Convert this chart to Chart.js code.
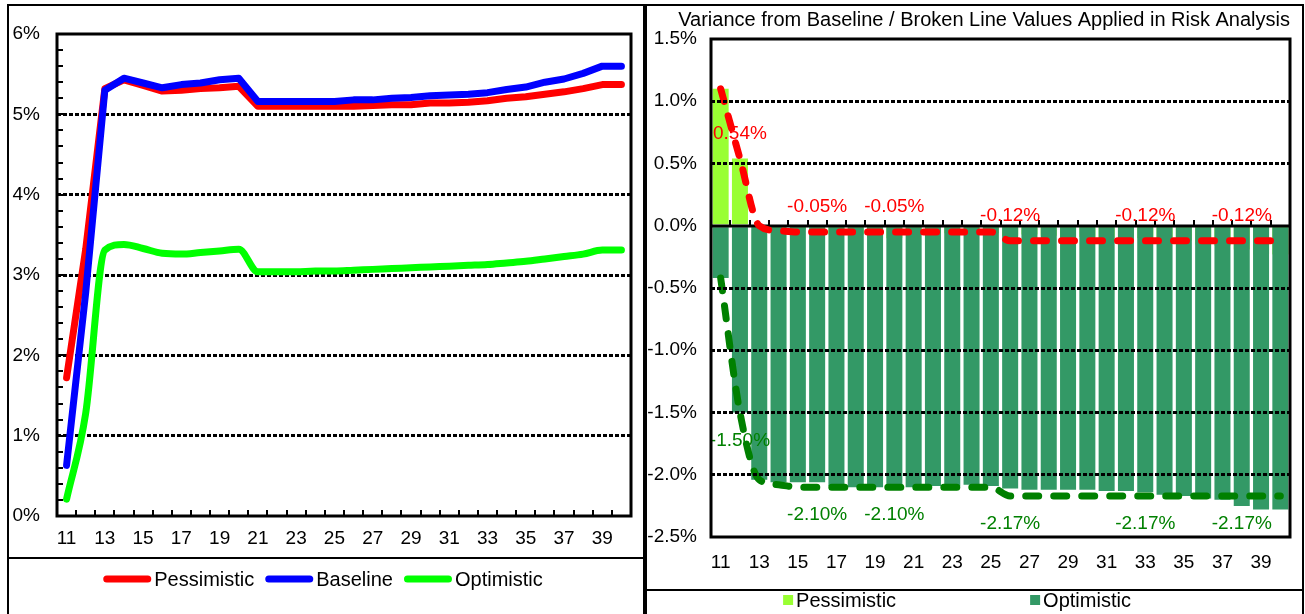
<!DOCTYPE html>
<html>
<head>
<meta charset="utf-8">
<title>Interest rate scenarios</title>
<script src="https://cdn.jsdelivr.net/npm/chart.js@4.4.0/dist/chart.umd.min.js"></script>
<style>
  html, body { margin: 0; padding: 0; background: #fff; overflow: hidden; }
  #stage { position: relative; width: 1305px; height: 614px; }
  canvas { position: absolute; top: 0; }
  #leftChart { left: 0; }
  #rightChart { left: 645px; }
  .panel { position: absolute; box-sizing: border-box; border: 2px solid #000; pointer-events: none; }
  .rule { position: absolute; height: 2px; background: #000; pointer-events: none; }
</style>
</head>
<body>
<div id="stage">
  <canvas id="leftChart" width="645" height="614"></canvas>
  <canvas id="rightChart" width="660" height="614"></canvas>
  <div class="panel" style="left:7px;top:4px;width:638px;height:650px"></div>
  <div class="panel" style="left:645px;top:4px;width:659px;height:650px"></div>
  <div class="rule" style="left:7px;top:557px;width:638px"></div>
  <div class="rule" style="left:645px;top:589px;width:659px"></div>
</div>
<script>
// Years on the horizontal axis and the ones that carry a label
const CATEGORIES = ['11','12','13','14','15','16','17','18','19','20',
                    '21','22','23','24','25','26','27','28','29','30',
                    '31','32','33','34','35','36','37','38','39','40'];
const TICK_LABELS = ['11','13','15','17','19','21','23','25','27','29','31','33','35','37','39'];

// Rate paths (%)
const PESSIMISTIC = [1.72, 3.32, 5.32, 5.43, 5.36, 5.29, 5.30, 5.32, 5.33, 5.35,
                     5.10, 5.10, 5.10, 5.10, 5.10, 5.10, 5.11, 5.12, 5.12, 5.14,
                     5.14, 5.15, 5.17, 5.20, 5.22, 5.25, 5.28, 5.32, 5.37, 5.37];
const BASELINE    = [0.63, 2.78, 5.30, 5.45, 5.39, 5.33, 5.37, 5.39, 5.43, 5.45,
                     5.16, 5.16, 5.16, 5.16, 5.16, 5.18, 5.18, 5.20, 5.21, 5.23,
                     5.24, 5.25, 5.27, 5.31, 5.34, 5.40, 5.44, 5.51, 5.60, 5.60];
const OPTIMISTIC  = [0.21, 1.28, 3.31, 3.38, 3.33, 3.27, 3.26, 3.28, 3.30, 3.32,
                     3.04, 3.04, 3.04, 3.05, 3.05, 3.06, 3.07, 3.08, 3.09, 3.10,
                     3.11, 3.12, 3.13, 3.15, 3.17, 3.20, 3.23, 3.26, 3.31, 3.31];

// Variance from baseline (percentage points)
const VAR_PESSIMISTIC = [1.10, 0.54, -0.01, -0.02, -0.03, -0.04, -0.07, -0.07, -0.10, -0.10,
                         -0.06, -0.06, -0.06, -0.06, -0.06, -0.08, -0.07, -0.08, -0.09, -0.09,
                         -0.10, -0.10, -0.10, -0.11, -0.12, -0.15, -0.16, -0.19, -0.23, -0.23];
const VAR_OPTIMISTIC  = [-0.42, -1.50, -2.04, -2.06, -2.06, -2.06, -2.09, -2.10, -2.10, -2.10,
                         -2.10, -2.09, -2.09, -2.08, -2.09, -2.11, -2.12, -2.12, -2.12, -2.12,
                         -2.13, -2.13, -2.14, -2.16, -2.17, -2.19, -2.20, -2.25, -2.28, -2.28];

// Broken-line values used in the risk analysis
const APPLIED_PESSIMISTIC = [1.10, 0.54, 0.00, -0.04, -0.05, -0.05, -0.05, -0.05, -0.05, -0.05,
                             -0.05, -0.05, -0.05, -0.05, -0.05, -0.12, -0.12, -0.12, -0.12, -0.12,
                             -0.12, -0.12, -0.12, -0.12, -0.12, -0.12, -0.12, -0.12, -0.12, -0.12];
const APPLIED_OPTIMISTIC  = [-0.42, -1.50, -2.04, -2.08, -2.10, -2.10, -2.10, -2.10, -2.10, -2.10,
                             -2.10, -2.10, -2.10, -2.10, -2.10, -2.17, -2.17, -2.17, -2.17, -2.17,
                             -2.17, -2.17, -2.17, -2.17, -2.17, -2.17, -2.17, -2.17, -2.17, -2.17];
// Points of the broken lines whose value is printed
const LABELLED_POINTS = [1, 5, 9, 15, 22, 27];

const FONT = '"Liberation Sans", Arial, sans-serif';
Chart.defaults.font.family = FONT;
Chart.defaults.color = '#000';

function roundedRect(ctx, x, y, w, h, r) {
  r = Math.min(r, w / 2, h / 2);
  ctx.beginPath();
  ctx.moveTo(x + r, y);
  ctx.lineTo(x + w - r, y);
  ctx.arcTo(x + w, y, x + w, y + r, r);
  ctx.lineTo(x + w, y + h - r);
  ctx.arcTo(x + w, y + h, x + w - r, y + h, r);
  ctx.lineTo(x + r, y + h);
  ctx.arcTo(x, y + h, x, y + h - r, r);
  ctx.lineTo(x, y + r);
  ctx.arcTo(x, y, x + r, y, r);
  ctx.closePath();
}

function line(ctx, x1, y1, x2, y2) {
  ctx.beginPath(); ctx.moveTo(x1, y1); ctx.lineTo(x2, y2); ctx.stroke();
}

// Heavy frame round the plot area
const plotFrame = {
  id: 'plotFrame',
  afterDatasetsDraw(chart) {
    const { ctx, chartArea: a } = chart;
    ctx.save();
    ctx.lineWidth = 3;
    ctx.strokeStyle = '#000';
    ctx.strokeRect(a.left, a.top, a.right - a.left, a.bottom - a.top);
    ctx.restore();
  }
};

// Legend laid out in a single centred row
function legendRow(cfg) {
  return {
    id: 'legendRow',
    afterDraw(chart) {
      const ctx = chart.ctx;
      const items = cfg.datasets.map(i => chart.data.datasets[i]);
      ctx.save();
      ctx.font = cfg.fontSize + 'px ' + FONT;
      ctx.textBaseline = 'middle';
      const widths = items.map(d => cfg.boxWidth + cfg.textGap + ctx.measureText(d.label).width);
      const total = widths.reduce((s, w) => s + w, 0) + cfg.itemGap * (items.length - 1);
      let x = cfg.centerX - total / 2;
      items.forEach((d, k) => {
        ctx.fillStyle = d.type === 'bar' ? d.backgroundColor : d.borderColor;
        roundedRect(ctx, x, cfg.y - cfg.boxHeight / 2, cfg.boxWidth, cfg.boxHeight, cfg.radius);
        ctx.fill();
        ctx.fillStyle = '#000';
        ctx.fillText(d.label, x + cfg.boxWidth + cfg.textGap, cfg.y + 1);
        x += widths[k] + cfg.itemGap;
      });
      ctx.restore();
    }
  };
}

// Minor tick marks on the left chart's axes
const leftTicks = {
  id: 'leftTicks',
  beforeDatasetsDraw(chart) {
    const { ctx, chartArea: a, scales: { x, y } } = chart;
    ctx.save();
    ctx.lineWidth = 2;
    ctx.strokeStyle = '#000';
    for (let k = 0; k <= 30; k++) {
      const py = Math.round(y.getPixelForValue(k * 0.2));
      line(ctx, a.left, py, a.left + 6, py);
    }
    for (let i = 0; i <= CATEGORIES.length; i++) {
      const px = Math.round(x.getPixelForValue(i - 0.5));
      line(ctx, px, a.bottom, px, a.bottom - 6);
    }
    ctx.restore();
  }
};

// Zero line with tick marks, and the printed values of the broken lines
const zeroLineAndLabels = {
  id: 'zeroLineAndLabels',
  afterDatasetDraw(chart, args) {
    if (args.index !== 3) return;
    const { ctx, chartArea: a, scales: { x, y } } = chart;
    const y0 = Math.round(y.getPixelForValue(0));
    ctx.save();
    ctx.strokeStyle = '#000';
    ctx.lineWidth = 3;
    line(ctx, a.left, y0, a.right, y0);
    ctx.lineWidth = 2;
    for (let i = 1; i < CATEGORIES.length; i++) {
      const px = Math.round(x.getPixelForValue(i - 0.5));
      line(ctx, px, y0, px, y0 - 6);
    }
    ctx.font = '19px ' + FONT;
    ctx.textAlign = 'center';
    ctx.textBaseline = 'middle';
    [[0, -25], [1, 28]].forEach(([di, dy]) => {
      const ds = chart.data.datasets[di];
      const pts = chart.getDatasetMeta(di).data;
      ctx.fillStyle = ds.borderColor;
      LABELLED_POINTS.forEach(i => {
        ctx.fillText(ds.data[i].toFixed(2) + '%', pts[i].x, pts[i].y + dy);
      });
    });
    ctx.restore();
  }
};

// Left: the three rate paths
new Chart(document.getElementById('leftChart'), {
  type: 'line',
  data: {
    labels: CATEGORIES,
    datasets: [
      { label: 'Pessimistic', data: PESSIMISTIC, borderColor: '#ff0000', backgroundColor: '#ff0000', order: 2 },
      { label: 'Baseline', data: BASELINE, borderColor: '#0000ff', backgroundColor: '#0000ff', order: 1 },
      { label: 'Optimistic', data: OPTIMISTIC, borderColor: '#00ff00', backgroundColor: '#00ff00', order: 0,
        cubicInterpolationMode: 'monotone' }
    ]
  },
  options: {
    responsive: false,
    animation: false,
    layout: { padding: { top: 34, right: 14, bottom: 48, left: 0 } },
    elements: {
      line: { borderWidth: 7, borderCapStyle: 'round', borderJoinStyle: 'round', tension: 0, fill: false },
      point: { radius: 0 }
    },
    plugins: { legend: { display: false }, tooltip: { enabled: false } },
    scales: {
      x: {
        offset: true,
        grid: { display: false },
        border: { display: false },
        ticks: {
          autoSkip: false, maxRotation: 0, padding: 3, color: '#000', font: { size: 19 },
          callback: (v, i) => TICK_LABELS.includes(CATEGORIES[i]) ? CATEGORIES[i] : ''
        },
        afterFit: s => { s.height = 50; }
      },
      y: {
        min: 0, max: 6,
        ticks: { stepSize: 1, padding: 17, color: '#000', font: { size: 19 }, callback: v => v + '%' },
        grid: {
          color: c => (c.tick && (c.tick.value === 0 || c.tick.value === 6)) ? 'rgba(0,0,0,0)' : '#000',
          lineWidth: 3, drawTicks: false
        },
        border: { display: false, dash: [4, 2] },
        afterFit: s => { s.width = 57; }
      }
    }
  },
  plugins: [leftTicks, plotFrame, legendRow({
    datasets: [0, 1, 2], centerX: 323, y: 579, fontSize: 20,
    boxWidth: 48, boxHeight: 7, radius: 3.5, textGap: 3, itemGap: 11
  })]
});

// Right: variances from the baseline with the applied broken lines
new Chart(document.getElementById('rightChart'), {
  type: 'bar',
  data: {
    labels: CATEGORIES,
    datasets: [
      { type: 'line', label: 'Pessimistic applied', data: APPLIED_PESSIMISTIC, borderColor: '#ff0000',
        backgroundColor: '#ff0000', borderDash: [13, 15], borderWidth: 7, borderCapStyle: 'round',
        cubicInterpolationMode: 'monotone', pointRadius: 0, fill: false, order: 0 },
      { type: 'line', label: 'Optimistic applied', data: APPLIED_OPTIMISTIC, borderColor: '#008000',
        backgroundColor: '#008000', borderDash: [13, 15], borderWidth: 7, borderCapStyle: 'round',
        cubicInterpolationMode: 'monotone', pointRadius: 0, fill: false, order: 0 },
      { type: 'bar', label: 'Pessimistic', data: VAR_PESSIMISTIC, backgroundColor: '#99ff33',
        grouped: false, barPercentage: 0.83, categoryPercentage: 1, order: 2 },
      { type: 'bar', label: 'Optimistic', data: VAR_OPTIMISTIC, backgroundColor: '#339966',
        grouped: false, barPercentage: 0.83, categoryPercentage: 1, order: 1 }
    ]
  },
  options: {
    responsive: false,
    animation: false,
    layout: { padding: { top: 0, right: 15, bottom: 37, left: 0 } },
    plugins: {
      legend: { display: false },
      tooltip: { enabled: false },
      title: {
        display: true, align: 'end',
        text: 'Variance from Baseline / Broken Line Values Applied in Risk Analysis',
        color: '#000', font: { size: 20, weight: 'normal' }, padding: { top: 8, bottom: 7 }
      }
    },
    scales: {
      x: {
        grid: { display: false },
        border: { display: false },
        ticks: {
          autoSkip: false, maxRotation: 0, padding: 6, color: '#000', font: { size: 19 },
          callback: (v, i) => TICK_LABELS.includes(CATEGORIES[i]) ? CATEGORIES[i] : ''
        },
        afterFit: s => { s.height = 40; }
      },
      y: {
        min: -2.5, max: 1.5,
        ticks: { stepSize: 0.5, padding: 14, color: '#000', font: { size: 19 }, callback: v => v.toFixed(1) + '%' },
        grid: {
          color: c => (c.tick && (Math.abs(c.tick.value) < 1e-9 || c.tick.value === 1.5 || c.tick.value === -2.5)) ? 'rgba(0,0,0,0)' : '#000',
          lineWidth: 3, drawTicks: false, z: 1
        },
        border: { display: false, dash: [4, 2] },
        afterFit: s => { s.width = 66; }
      }
    }
  },
  plugins: [zeroLineAndLabels, plotFrame, legendRow({
    datasets: [2, 3], centerX: 312, y: 600, fontSize: 20,
    boxWidth: 10, boxHeight: 10, radius: 0, textGap: 3, itemGap: 134
  })]
});
</script>
</body>
</html>
